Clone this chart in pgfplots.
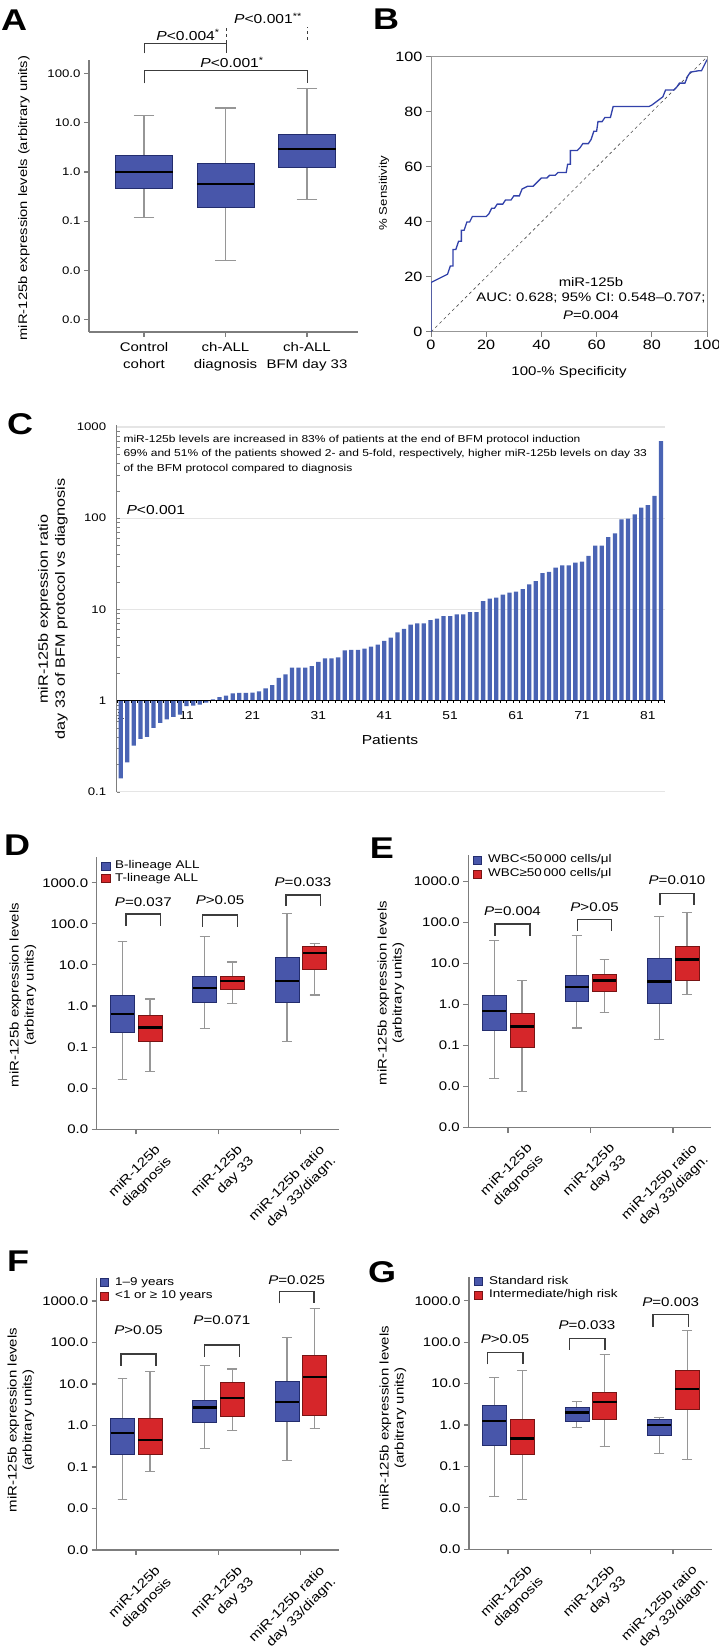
\documentclass[border=0pt]{standalone}
\usepackage{fontspec}
\setmainfont{Liberation Sans}[FakeStretch=1.2]
\usepackage{pgfplots}
\pgfplotsset{compat=1.18}
\usepgfplotslibrary{statistics}

\definecolor{boxblue}{RGB}{72,86,170}
\definecolor{boxblueD}{RGB}{35,45,110}
\definecolor{boxred}{RGB}{214,38,42}
\definecolor{boxredD}{RGB}{120,20,20}
\definecolor{barblue}{RGB}{74,100,180}
\definecolor{rocblue}{RGB}{50,66,170}
\definecolor{axgray}{RGB}{125,125,125}
\definecolor{wgray}{RGB}{150,150,150}
\definecolor{brk}{RGB}{60,60,60}

\newcommand\ftick{\fontsize{12.5}{14}\selectfont}
\newcommand\flab{\fontsize{12.5}{15}\selectfont}
\newcommand\fleg{\fontsize{11.2}{12.5}\selectfont}
\newcommand\fp{\fontsize{12.6}{14}\selectfont}
\newcommand\fletter{\fontsize{30}{30}\selectfont\bfseries}

\pgfplotsset{
  /pgf/number format/assume math mode=true,
  baseax/.style={scale only axis, anchor=south west,
    axis x line*=bottom, axis y line*=left,
    every outer x axis line/.append style={-},
    every outer y axis line/.append style={-},
    axis line style={draw=axgray, line width=1.3pt, -},
    tick style={draw=axgray, line width=1.1pt},
    tick align=outside, major tick length=5pt,
  },
  logbox/.style={baseax,
    ytick={1000,100,10,1,0.1,0.01,0.001},
    yticklabels={1000.0,100.0,10.0,1.0,0.1,0.0,0.0},
    yticklabel style={font=\ftick},
    xtick={0,1,2},
    xticklabels={{miR-125b\\diagnosis},{miR-125b\\day 33},{miR-125b ratio\\day 33/diagn.}},
    xticklabel style={xshift=18pt, yshift=-8pt, rotate=45, anchor=north east, align=right, font=\fontsize{12.8}{16}\selectfont, inner sep=1pt},
    boxplot/draw direction=y,
    boxplot/box extend=0.29, boxplot/whisker extend=0.12,
    boxplot/every whisker/.style={draw=wgray, line width=1.1pt},
    boxplot/every median/.style={draw=black, line width=2.2pt},
  },
}
\tikzset{
  bb/.style={fill=boxblue, draw=boxblueD, line width=0.7pt},
  rb/.style={fill=boxred, draw=boxredD, line width=0.7pt},
}

\newcommand\bx[7]{\addplot[#1, boxplot prepared={draw position=#2, lower whisker=#3, lower quartile=#4, median=#5, upper quartile=#6, upper whisker=#7}] coordinates {};}
% legend: square x, row1 y, row2 y, text x, text1, text2
\newcommand\leg[6]{%
  \draw[bb] (#1,#2-4.2) rectangle +(8.3,8.3);
  \draw[rb] (#1,#3-4.2) rectangle +(8.3,8.3);
  \node[anchor=west, inner sep=0pt, font=\fleg] at (#4,#2) {#5};
  \node[anchor=west, inner sep=0pt, font=\fleg] at (#4,#3) {#6};}

\begin{document}
\begin{tikzpicture}[x=1pt,y=1pt]
\useasboundingbox (0,0) rectangle (718,1649);

% ---------------- A ----------------
\begin{axis}[baseax, at={(89pt,1317pt)}, width=269pt, height=272pt,
  xmin=-0.675, xmax=2.626, ymode=log, ymin=5.6e-4, ymax=189,
  ytick={100,10,1,0.1,0.01,0.001}, yticklabels={100.0,10.0,1.0,0.1,0.0,0.0},
  yticklabel style={font=\fontsize{11}{13}\selectfont},
  xtick={0,1,2}, xticklabels={{Control\\cohort},{ch-ALL\\diagnosis},{ch-ALL\\BFM day 33}},
  xticklabel style={align=center, font=\fontsize{12.5}{17}\selectfont, yshift=-2pt},
  boxplot/draw direction=y, boxplot/box extend=0.7, boxplot/whisker extend=0.25,
  boxplot/every whisker/.style={draw=wgray, line width=1.1pt},
  boxplot/every median/.style={draw=black, line width=2.2pt}]
\bx{bb}{0}{0.12}{0.47}{1.0}{2.2}{14}
\bx{bb}{1}{0.016}{0.19}{0.56}{1.5}{20}
\bx{bb}{2}{0.28}{1.26}{2.9}{5.7}{49}
\end{axis}
\node[font=\fletter] at (14,1629) {A};
\node[rotate=90, font=\fontsize{12.3}{15}\selectfont] at (24,1451) {miR-125b expression levels (arbitrary units)};
\draw[brk, line width=1pt] (144,1595.7) -- (144,1605.7) -- (226,1605.7) -- (226,1595.7);
\node[font=\fontsize{13}{15}\selectfont] at (188,1614) {\textit{P}<0.004\textsuperscript{*}};
\draw[brk, line width=1pt, dashed] (226,1606) -- (226,1622);
\draw[brk, line width=1pt, dashed] (307,1609) -- (307,1622);
\node[font=\fontsize{13}{15}\selectfont] at (268,1630.7) {\textit{P}<0.001\textsuperscript{**}};
\draw[brk, line width=1pt] (144,1565.7) -- (144,1578) -- (307,1578) -- (307,1565.7);
\node[font=\fontsize{13}{15}\selectfont] at (232,1586.5) {\textit{P}<0.001\textsuperscript{*}};

% ---------------- B ----------------
\begin{axis}[scale only axis, anchor=south west, at={(431pt,1317pt)}, width=276pt, height=275pt,
  xmin=0, xmax=100, ymin=0, ymax=100, xtick={0,20,...,100}, ytick={0,20,...,100},
  axis line style={draw=axgray!80, line width=1pt},
  tick style={draw=axgray, line width=1pt}, tick align=outside, major tick length=5pt,
  xtick pos=left, ytick pos=left,
  tick label style={font=\fontsize{13.5}{15}\selectfont}]
\addplot[black!70, dashed, line width=0.6pt] coordinates {(0,0) (100,100)};
\addplot[rocblue, line width=1.3pt] coordinates {
(0,0) (0,18) (2,19) (4,20) (6,21) (7,24) (8,24) (8,30) (9,30) (10,33) (11,33) (11,37) (12,37)
(13,40) (14,40) (15,42) (20,42) (21,43) (22,45) (23,45) (24,46.5) (26,46.5) (27,48) (29,48)
(30,49.5) (32,49.5) (33,52) (35,53) (37,53) (38,54) (40,56) (42,56) (43,57) (45,57) (46,58)
(49,58) (49.5,61) (50.5,61) (50.5,66) (53,66) (54,67) (55,68.5) (57,68.5) (58,70) (59,73)
(60,73) (60.5,76.5) (62,76.5) (63,78) (65,78) (66,82) (79,82) (80,82.5) (82,84) (84,85.5)
(85,88) (88,88) (89,89) (90,90.5) (92,90.5) (93,93) (94,94.5) (97,95) (98,95) (99,97) (100,99)};
\end{axis}
\node[font=\fletter] at (386,1630) {B};
\node[rotate=90, font=\fontsize{11}{13}\selectfont] at (384,1456) {\% Sensitivity};
\node[font=\fontsize{12.5}{14}\selectfont] at (569,1277) {100-\% Specificity};
\node[font=\fontsize{12.4}{14}\selectfont] at (591,1367.3) {miR-125b};
\node[font=\fontsize{12.4}{14}\selectfont] at (591,1350.7) {AUC: 0.628; 95\% CI: 0.548–0.707;};
\node[font=\fontsize{12.4}{14}\selectfont] at (591,1334) {\textit{P}=0.004};

% ---------------- C ----------------
\begin{axis}[scale only axis, anchor=south west, at={(116.7pt,857.3pt)}, width=548.3pt, height=366.7pt,
  xmin=0.4, xmax=83.6, ymode=log, ymin=0.1, ymax=1050,
  axis x line*=bottom, axis y line*=left,
  every outer x axis line/.append style={-}, every outer y axis line/.append style={-},
  x axis line style={draw=none}, y axis line style={draw=axgray, line width=1.5pt, -},
  ytick={0.1,1,10,100,1000}, yticklabels={0.1,1,10,100,1000},
  xtick={1,11,...,81}, major tick length=0pt,
  ymajorgrids, grid style={draw=black!10, line width=1.2pt},
  yticklabel style={font=\fontsize{11}{13}\selectfont, xshift=-7pt},
  xticklabel style={font=\fontsize{11.5}{13}\selectfont, yshift=84pt}]
\addplot[ybar, bar width=0.65, fill=barblue, draw=none] coordinates {
(1,0.14) (2,0.21) (3,0.32) (4,0.38) (5,0.40) (6,0.50) (7,0.57) (8,0.62) (9,0.66) (10,0.70)
(11,0.87) (12,0.88) (13,0.90) (14,0.95) (15,1.03) (16,1.09) (17,1.13) (18,1.20) (19,1.21) (20,1.21)
(21,1.22) (22,1.26) (23,1.36) (24,1.47) (25,1.77) (26,1.93) (27,2.30) (28,2.30) (29,2.30) (30,2.38)
(31,2.65) (32,2.90) (33,2.90) (34,2.98) (35,3.55) (36,3.60) (37,3.60) (38,3.70) (39,3.90) (40,4.10)
(41,4.50) (42,4.90) (43,5.60) (44,6.10) (45,6.80) (46,7.00) (47,7.00) (48,7.60) (49,7.90) (50,8.40)
(51,8.40) (52,8.80) (53,8.80) (54,9.30) (55,9.30) (56,12.3) (57,13.1) (58,13.4) (59,14.5) (60,15.2)
(61,15.6) (62,16.6) (63,18.8) (64,20.4) (65,25.0) (66,25.8) (67,28.6) (68,30.3) (69,30.3) (70,32.5)
(71,33.3) (72,38.5) (73,50.0) (74,50.0) (75,62.0) (76,68.0) (77,97.0) (78,99.0) (79,110) (80,130)
(81,139) (82,175) (83,700)};
\draw[black, line width=1.4pt] (axis cs:0.4,1) -- (axis cs:83.6,1);
\draw[black, line width=2.4pt, dash pattern=on 1pt off 5.59pt, yshift=-1.5pt] (axis cs:0.5,1) -- (axis cs:83.6,1);
\end{axis}
\node[font=\fletter] at (20,1225) {C};
\node[rotate=90, align=center, font=\fontsize{13.5}{17}\selectfont] at (53,1040) {miR-125b expression ratio\\day 33 of BFM protocol vs diagnosis};
\node[anchor=west, align=left, font=\fontsize{10}{14.5}\selectfont] at (120,1195) {miR-125b levels are increased in 83\% of patients at the end of BFM protocol induction\\69\% and 51\% of the patients showed 2- and 5-fold, respectively, higher miR-125b levels on day 33\\of the BFM protocol compared to diagnosis};
\node[anchor=west, font=\fontsize{13}{15}\selectfont] at (123,1139) {\textit{P}<0.001};
\node[font=\fontsize{13}{15}\selectfont] at (390,909) {Patients};

% ---------------- D ----------------
\begin{axis}[logbox, at={(96.7pt,519.7pt)}, width=242.6pt, height=272.6pt,
  xmin=-0.478, xmax=2.47, ymode=log, ymin=0.001, ymax=4300]
\bx{bb}{-0.165}{0.0165}{0.23}{0.64}{1.82}{36.7}
\bx{rb}{0.17}{0.025}{0.135}{0.30}{0.58}{1.48}
\bx{bb}{0.835}{0.28}{1.23}{2.8}{5.4}{50}
\bx{rb}{1.17}{1.18}{2.6}{4.1}{5.4}{11.8}
\bx{bb}{1.835}{0.14}{1.23}{4.1}{15}{180}
\bx{rb}{2.17}{1.85}{7.9}{19.9}{27.7}{33.5}
\end{axis}
\leg{101.7}{783}{770.7}{115}{B-lineage ALL}{T-lineage ALL}
\node[font=\fletter] at (17,804) {D};
\node[rotate=90, align=center, font=\flab] at (23,654) {miR-125b expression levels\\(arbitrary units)};
\draw[brk, line width=1.2pt] (126,723.3) -- (126,735) -- (160.7,735) -- (160.7,723.3);
\node[font=\fp] at (143.3,747.3) {\textit{P}=0.037};
\draw[brk, line width=1.2pt] (202.7,722.3) -- (202.7,734) -- (237.7,734) -- (237.7,722.3);
\node[font=\fp] at (220,749) {\textit{P}>0.05};
\draw[brk, line width=1.2pt] (286,743.3) -- (286,754) -- (320.7,754) -- (320.7,743.3);
\node[font=\fp] at (303,767.3) {\textit{P}=0.033};

% ---------------- E ----------------
\begin{axis}[logbox, at={(468.3pt,521.3pt)}, width=242.4pt, height=272.7pt,
  xmin=-0.481, xmax=2.457, ymode=log, ymin=0.001, ymax=4480]
\bx{bb}{-0.165}{0.0155}{0.235}{0.70}{1.7}{36}
\bx{rb}{0.17}{0.0076}{0.089}{0.295}{0.63}{3.8}
\bx{bb}{0.835}{0.27}{1.23}{2.7}{5.2}{49.5}
\bx{rb}{1.17}{0.64}{2.1}{3.9}{5.5}{12.8}
\bx{bb}{1.835}{0.14}{1.1}{3.7}{13.8}{144}
\bx{rb}{2.17}{1.76}{3.9}{12.6}{27}{174}
\end{axis}
\leg{473.5}{789}{775}{488}{WBC<50\,000 cells/μl}{WBC≥50\,000 cells/μl}
\node[font=\fletter] at (382,801) {E};
\node[rotate=90, align=center, font=\flab] at (391,656) {miR-125b expression levels\\(arbitrary units)};
\draw[brk, line width=1.2pt] (495,713.3) -- (495,725) -- (530,725) -- (530,713.3);
\node[font=\fp] at (512.5,738) {\textit{P}=0.004};
\draw[brk, line width=1.2pt] (577.3,718) -- (577.3,729.7) -- (611.7,729.7) -- (611.7,718);
\node[font=\fp] at (594.5,742.3) {\textit{P}>0.05};
\draw[brk, line width=1.2pt] (660,744) -- (660,755.7) -- (694,755.7) -- (694,744);
\node[font=\fp] at (677,769) {\textit{P}=0.010};

% ---------------- F ----------------
\begin{axis}[logbox, at={(96.7pt,99pt)}, width=242.6pt, height=272pt,
  xmin=-0.478, xmax=2.47, ymode=log, ymin=0.001, ymax=3580]
\bx{bb}{-0.165}{0.0163}{0.197}{0.65}{1.45}{13.3}
\bx{rb}{0.17}{0.078}{0.197}{0.45}{1.45}{20}
\bx{bb}{0.835}{0.275}{1.22}{2.7}{4.1}{27.7}
\bx{rb}{1.17}{0.76}{1.7}{4.5}{11}{23}
\bx{bb}{1.835}{0.144}{1.27}{3.7}{11.9}{131}
\bx{rb}{2.17}{0.86}{1.8}{15}{48}{665}
\end{axis}
\leg{100.5}{366.7}{353}{115}{1–9 years}{<1 or ≥ 10 years}
\node[font=\fletter] at (18,388) {F};
\node[rotate=90, align=center, font=\flab] at (21,229) {miR-125b expression levels\\(arbitrary units)};
\draw[brk, line width=1.2pt] (121,283.3) -- (121,295) -- (156,295) -- (156,283.3);
\node[font=\fp] at (138.5,319) {\textit{P}>0.05};
\draw[brk, line width=1.2pt] (204.3,292.3) -- (204.3,304) -- (239.3,304) -- (239.3,292.3);
\node[font=\fp] at (221.8,329) {\textit{P}=0.071};
\draw[brk, line width=1.2pt] (279.3,345.7) -- (279.3,357.3) -- (314,357.3) -- (314,345.7);
\node[font=\fp] at (296.7,369) {\textit{P}=0.025};

% ---------------- G ----------------
\begin{axis}[logbox, at={(469pt,99.7pt)}, width=243.3pt, height=272.6pt,
  xmin=-0.473, xmax=2.476, ymode=log, ymin=0.001, ymax=3800]
\bx{bb}{-0.165}{0.0187}{0.326}{1.25}{2.95}{14.2}
\bx{rb}{0.17}{0.0158}{0.193}{0.47}{1.37}{21}
\bx{bb}{0.835}{0.88}{1.23}{2.0}{2.64}{3.7}
\bx{rb}{1.17}{0.31}{1.4}{3.56}{6.2}{50}
\bx{bb}{1.835}{0.21}{0.57}{1.0}{1.37}{1.5}
\bx{rb}{2.17}{0.146}{2.4}{7.4}{20.6}{187}
\end{axis}
\leg{474}{368}{354}{489}{Standard risk}{Intermediate/high risk}
\node[font=\fletter] at (382,377) {G};
\node[rotate=90, align=center, font=\flab] at (393,231) {miR-125b expression levels\\(arbitrary units)};
\draw[brk, line width=1.2pt] (487.3,284.7) -- (487.3,296.3) -- (523,296.3) -- (523,284.7);
\node[font=\fp] at (505,310) {\textit{P}>0.05};
\draw[brk, line width=1.2pt] (569.7,299) -- (569.7,310.7) -- (605,310.7) -- (605,299);
\node[font=\fp] at (587,324) {\textit{P}=0.033};
\draw[brk, line width=1.2pt] (653,322.3) -- (653,334.7) -- (688.3,334.7) -- (688.3,322.3);
\node[font=\fp] at (670.7,347.3) {\textit{P}=0.003};
\end{tikzpicture}
\end{document}
